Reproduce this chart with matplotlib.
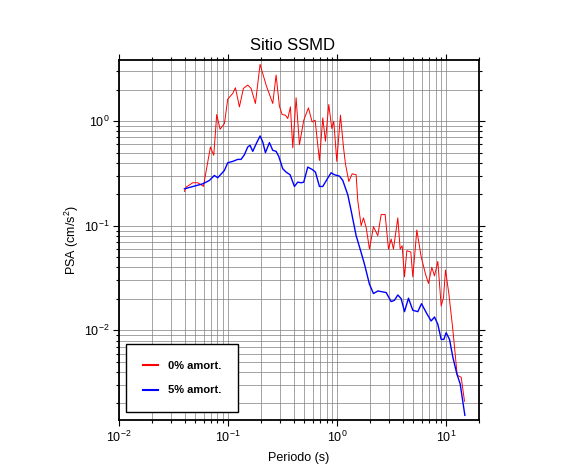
import numpy as np
import matplotlib
matplotlib.use('Agg')
import matplotlib.pyplot as plt
from matplotlib.ticker import LogLocator, NullFormatter

plt.rcParams['font.family'] = ['Liberation Sans', 'DejaVu Sans']
plt.rcParams['mathtext.fontset'] = 'custom'
plt.rcParams['mathtext.rm'] = 'Liberation Sans'
plt.rcParams['mathtext.it'] = 'Liberation Sans:italic'
plt.rcParams['mathtext.bf'] = 'Liberation Sans:bold'

# espectro 0% amortiguamiento
T_0 = [0.0398, 0.0412, 0.0474, 0.0527, 0.0565, 0.0594, 0.0619, 0.0689, 0.0739, 0.0787,
       0.0845, 0.0926, 0.0993, 0.1104, 0.1168, 0.1271, 0.1382, 0.1515, 0.1626, 0.1781,
       0.1966, 0.2232, 0.2570, 0.2757, 0.2957, 0.3130, 0.3357, 0.3527, 0.3731, 0.3920,
       0.4206, 0.4512, 0.4944, 0.5458, 0.5897, 0.6282, 0.6886, 0.7386, 0.7818, 0.8385,
       0.8935, 0.9320, 0.993, 1.073, 1.143, 1.192, 1.280, 1.373, 1.494, 1.547,
       1.660, 1.744, 1.845, 1.980, 2.154, 2.361, 2.533, 2.757, 2.958, 3.129,
       3.287, 3.602, 3.784, 3.948, 4.147, 4.356, 4.740, 4.945, 5.383, 5.897,
       6.463, 6.885, 7.387, 7.816, 8.386, 8.999, 9.452, 9.86, 10.58, 11.51,
       12.62, 13.73, 14.73]
psa_0 = [0.213, 0.234, 0.258, 0.258, 0.247, 0.238, 0.303, 0.567, 0.472, 1.159,
         0.838, 0.950, 1.626, 1.844, 2.089, 1.372, 2.059, 2.216, 2.059, 1.478,
         3.50, 2.216, 1.478, 2.764, 1.393, 1.159, 1.142, 1.061, 1.372, 0.555,
         1.675, 0.597, 1.022, 1.343, 0.985, 1.022, 0.422, 1.076, 0.643, 1.445,
         0.850, 1.0, 0.413, 1.142, 0.567, 0.392, 0.265, 0.314, 0.308, 0.174,
         0.1004, 0.119, 0.0967, 0.0599, 0.0982, 0.0805, 0.128, 0.128, 0.0599, 0.0747,
         0.0599, 0.119, 0.0599, 0.0645, 0.0325, 0.0578, 0.0561, 0.0325, 0.0912, 0.0506,
         0.0345, 0.0281, 0.0400, 0.0332, 0.0456, 0.0171, 0.0206, 0.0377, 0.0225, 0.0102,
         0.00373, 0.00356, 0.0021]

# espectro 5% amortiguamiento
T_5 = [0.0398, 0.0586, 0.0674, 0.0749, 0.0804, 0.0926, 0.0993, 0.1104, 0.1227, 0.1316,
       0.1412, 0.1515, 0.1591, 0.1684, 0.1832, 0.1966, 0.2080, 0.2201, 0.2394, 0.2570,
       0.2757, 0.2916, 0.3173, 0.3404, 0.3705, 0.4061, 0.4356, 0.4674, 0.4944, 0.5380,
       0.5897, 0.6327, 0.6886, 0.7386, 0.8209, 0.8810, 0.9452, 1.050, 1.127, 1.253,
       1.344, 1.494, 1.660, 1.781, 1.980, 2.154, 2.361, 2.533, 2.816, 3.129,
       3.357, 3.602, 3.866, 4.147, 4.512, 4.945, 5.496, 5.939, 6.647, 7.286,
       7.816, 8.386, 8.999, 9.52, 10.0, 10.73, 11.51, 12.53, 13.44, 14.84]
psa_5 = [0.2257, 0.252, 0.2714, 0.303, 0.288, 0.3386, 0.401, 0.413, 0.4316, 0.4316,
         0.4786, 0.567, 0.588, 0.515, 0.624, 0.723, 0.633, 0.5003, 0.624, 0.5267,
         0.515, 0.4613, 0.3512, 0.3263, 0.3076, 0.2377, 0.2616, 0.2578, 0.2616, 0.3643,
         0.346, 0.3263, 0.2377, 0.2377, 0.2858, 0.3215, 0.3076, 0.2987, 0.2714, 0.1977,
         0.1398, 0.0805, 0.0556, 0.0430, 0.0276, 0.0225, 0.0238, 0.0235, 0.0230, 0.01885,
         0.0194, 0.0218, 0.0201, 0.0151, 0.0203, 0.01556, 0.0151, 0.0180, 0.01445, 0.0123,
         0.01343, 0.01142, 0.0082, 0.0082, 0.0095, 0.0082, 0.00555, 0.00384, 0.00308, 0.00154]

fig = plt.figure(figsize=(5.86, 4.75), dpi=100)
ax = fig.add_axes([0.2031, 0.1158, 0.6143, 0.7579])

ax.loglog(T_0, psa_0, color='red', lw=0.7, label='0% amort.')
ax.loglog(T_5, psa_5, color='blue', lw=1.0, label='5% amort.')

ax.set_xlim(0.01, 20)
ax.set_ylim(0.00139, 3.85)

ax.xaxis.set_major_locator(LogLocator(base=10, numticks=10))
ax.xaxis.set_minor_locator(LogLocator(base=10, subs=np.arange(2, 10), numticks=20))
ax.yaxis.set_major_locator(LogLocator(base=10, numticks=10))
ax.yaxis.set_minor_locator(LogLocator(base=10, subs=np.arange(2, 10), numticks=20))
ax.xaxis.set_minor_formatter(NullFormatter())
ax.yaxis.set_minor_formatter(NullFormatter())

ax.grid(True, which='both', color='#808080', lw=0.5)
ax.set_axisbelow(True)

ax.tick_params(which='both', direction='out', top=True, right=True, labelsize=9, width=0.8)
ax.tick_params(which='major', length=4, pad=3)
ax.tick_params(which='minor', length=2)
for s in ax.spines.values():
    s.set_linewidth(1.3)

ax.set_xlabel('Periodo (s)', fontsize=9, labelpad=5)
ax.set_ylabel('PSA (cm/s$^2$)', fontsize=9, labelpad=2)
fig.suptitle('Sitio SSMD', fontsize=12, y=0.92)

leg = ax.legend(loc='lower left', bbox_to_anchor=(0.019, 0.022), borderaxespad=0,
                fancybox=False, edgecolor='black', framealpha=1,
                prop={'weight': 'bold', 'size': 8}, handlelength=1.4,
                handletextpad=0.9, borderpad=1.5, labelspacing=1.3)
leg.get_frame().set_linewidth(1.0)
for l in leg.get_lines():
    l.set_linewidth(1.5)

fig.savefig('out.png', dpi=100)
